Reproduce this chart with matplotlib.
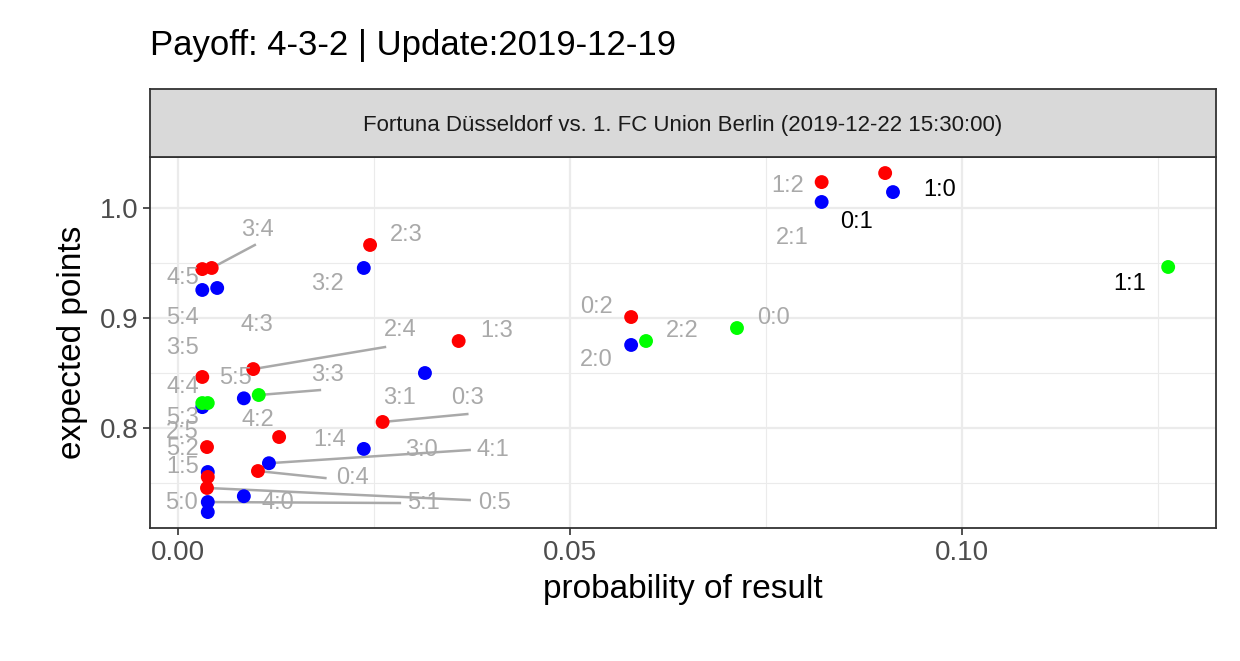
import numpy as np
import matplotlib
matplotlib.use('Agg')
from matplotlib import pyplot as plt
from matplotlib.patches import Rectangle

plt.rcParams['font.family'] = ['Liberation Sans', 'DejaVu Sans']

# results, probability, expected points, type (H/A/D)
results = ['1:0', '2:1', '2:0', '3:2', '3:1', '3:0', '4:1', '4:0', '4:2', '4:3', '5:4', '5:3', '5:2', '5:1', '5:0',
           '0:1', '1:2', '0:2', '2:3', '1:3', '0:3', '1:4', '0:4', '2:4', '4:5', '3:4', '3:5', '2:5', '1:5', '0:5',
           '1:1', '0:0', '2:2', '3:3', '4:4', '5:5']
prob = [0.0912, 0.0821, 0.0578, 0.0237, 0.0315, 0.0237, 0.0116, 0.0084, 0.0084, 0.0031, 0.0050, 0.0031, 0.0038, 0.0038, 0.0038,
        0.0902, 0.0821, 0.0578, 0.0245, 0.0358, 0.0261, 0.0129, 0.0102, 0.0096, 0.0031, 0.0043, 0.0031, 0.0037, 0.0038, 0.0037,
        0.1263, 0.0713, 0.0597, 0.0103, 0.0031, 0.0038]
exp_points = [1.0145, 1.0055, 0.8755, 0.9455, 0.850, 0.781, 0.768, 0.738, 0.827, 0.9255, 0.9273, 0.819, 0.760, 0.7327, 0.7236,
              1.0318, 1.0236, 0.9009, 0.9664, 0.8791, 0.8055, 0.7918, 0.7609, 0.8536, 0.9445, 0.9455, 0.8464, 0.7827, 0.7555, 0.7455,
              0.9464, 0.8909, 0.8791, 0.830, 0.8227, 0.8227]
kind = ['H'] * 15 + ['A'] * 15 + ['D'] * 6

# label positions (repelled)
lab_x = [0.0972, 0.0783, 0.0534, 0.0191, 0.0283, 0.0311, 0.0402, 0.0128, 0.0102, 0.0101, 0.0006, 0.0006, 0.0006, 0.0313, 0.0005,
         0.0866, 0.0777, 0.0534, 0.0291, 0.0406, 0.0369, 0.0194, 0.0222, 0.0283, 0.0006, 0.0101, 0.0006, 0.0006, 0.0006, 0.0404,
         0.1214, 0.0759, 0.0643, 0.0191, 0.0006, 0.0073]
lab_y = [1.0164, 0.9727, 0.8618, 0.9309, 0.8273, 0.780, 0.780, 0.7318, 0.8073, 0.8936, 0.900, 0.8091, 0.781, 0.7318, 0.7318,
         0.9873, 1.020, 0.910, 0.9755, 0.8882, 0.8273, 0.789, 0.7545, 0.8891, 0.9364, 0.980, 0.8727, 0.7964, 0.7645, 0.7318,
         0.9309, 0.900, 0.8882, 0.8482, 0.8373, 0.8455]
black_labels = ['1:0', '0:1', '1:1']
# segment ends for labels with visible lines
seg_end = {'3:4': (0.0098, 0.9664), '2:4': (0.0264, 0.8736), '3:3': (0.0181, 0.8345),
           '0:3': (0.0369, 0.8127), '4:1': (0.0372, 0.780), '0:4': (0.0188, 0.7545),
           '5:1': (0.0283, 0.7318), '0:5': (0.0372, 0.7345)}

colors = {'H': '#0000FF', 'A': '#FF0000', 'D': '#00FF00'}

fig = plt.figure(figsize=(12.4, 6.61), dpi=100)
W, H = 1240, 661
ax = fig.add_axes([150 / W, (H - 528) / H, 1066 / W, 371 / H])
strip = fig.add_axes([150 / W, (H - 157) / H, 1066 / W, 68 / H])

ax.set_xlim(-0.00357, 0.1324)
ax.set_ylim(0.7091, 1.0464)
ax.set_xticks([0.0, 0.05, 0.10])
ax.set_xticklabels(['0.00', '0.05', '0.10'])
ax.set_yticks([0.8, 0.9, 1.0])
ax.set_xticks([0.025, 0.075, 0.125], minor=True)
ax.set_yticks([0.75, 0.85, 0.95], minor=True)
ax.grid(True, which='major', color='#EBEBEB', linewidth=1.6)
ax.grid(True, which='minor', color='#EBEBEB', linewidth=0.8)
ax.set_axisbelow(True)
for s in ax.spines.values():
    s.set_color('#333333')
    s.set_linewidth(1.3)
ax.tick_params(which='major', labelsize=20, colors='#333333', length=5, width=1.2)
ax.tick_params(which='minor', length=0)
for t in ax.get_xticklabels() + ax.get_yticklabels():
    t.set_color('#4D4D4D')

for i, r in enumerate(results):
    if r in seg_end:
        ex, ey = seg_end[r]
        ax.plot([prob[i], ex], [exp_points[i], ey], color='#A9A9A9', lw=1.8, zorder=2)
ax.scatter(prob, exp_points, c=[colors[k] for k in kind], s=100, zorder=3, linewidths=0)
for i, r in enumerate(results):
    col = 'black' if r in black_labels else '#A9A9A9'
    ax.text(lab_x[i], lab_y[i], r, color=col, fontsize=17, ha='center', va='center', zorder=4)

ax.set_xlabel('probability of result', fontsize=24, labelpad=6)
ax.set_ylabel('expected points', fontsize=24, labelpad=8)

strip.set_xlim(0, 1)
strip.set_ylim(0, 1)
strip.add_patch(Rectangle((0, 0), 1, 1, facecolor='#D9D9D9', edgecolor='none'))
strip.set_xticks([])
strip.set_yticks([])
for s in strip.spines.values():
    s.set_color('#333333')
    s.set_linewidth(1.3)
strip.text(0.5, 0.47, 'Fortuna Düsseldorf vs. 1. FC Union Berlin (2019-12-22 15:30:00)',
           ha='center', va='center', fontsize=16, color='#1A1A1A')

fig.text(150 / W, 1 - 45 / H, 'Payoff: 4-3-2 | Update:2019-12-19', fontsize=25, va='center', ha='left')

fig.savefig('out.png', dpi=100)
